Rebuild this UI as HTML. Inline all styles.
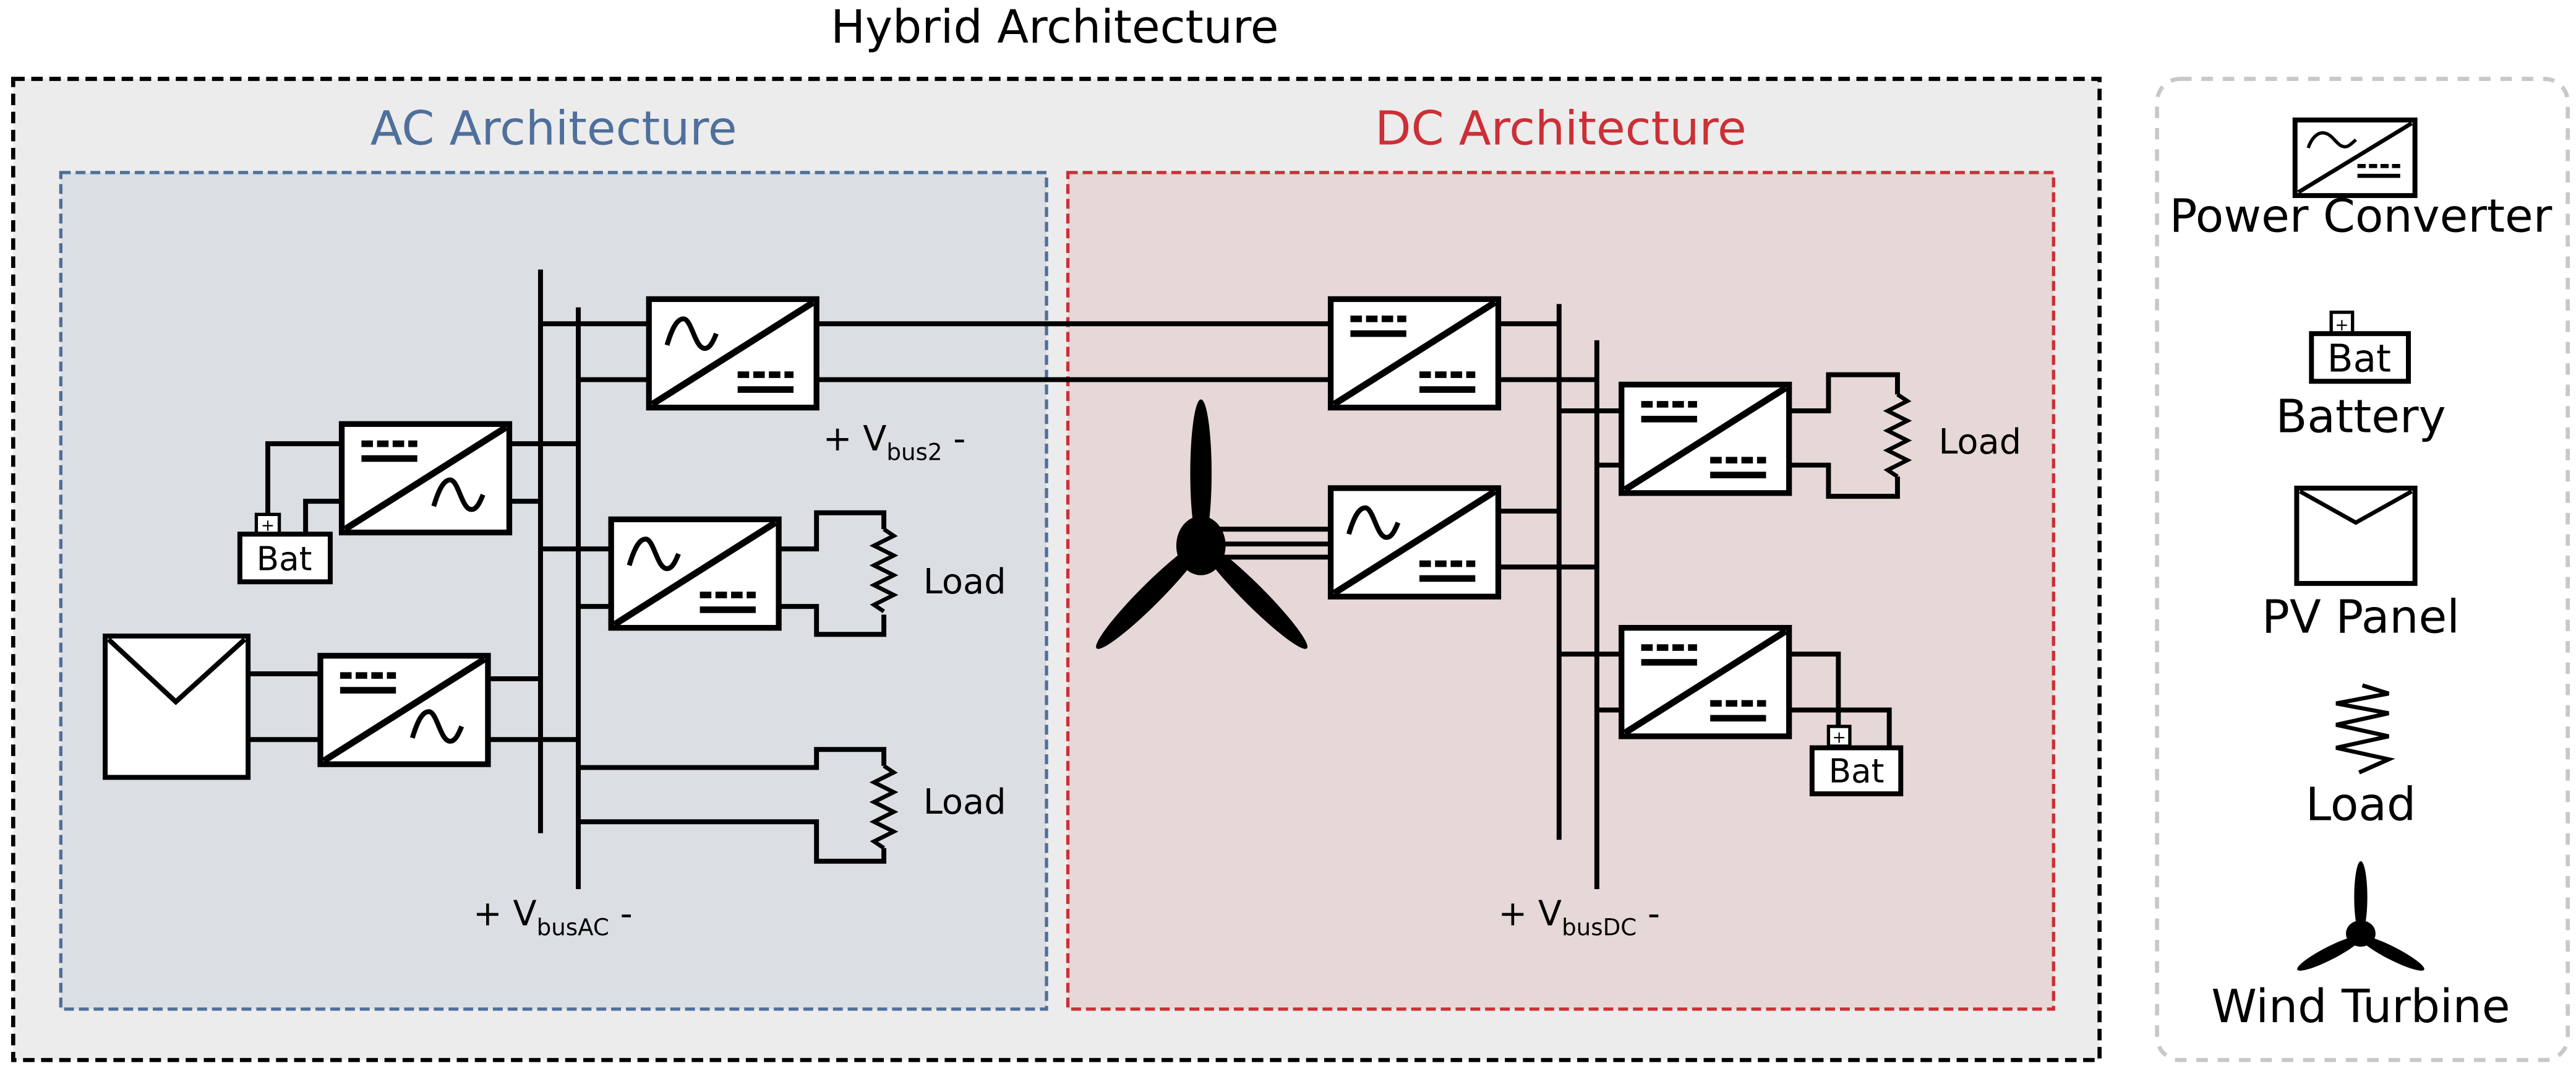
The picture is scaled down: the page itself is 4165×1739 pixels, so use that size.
<!DOCTYPE html>
<html><head><meta charset="utf-8"><style>
html,body{margin:0;padding:0;background:#fff}
svg{display:block}
text{font-family:"DejaVu Sans","Liberation Sans",sans-serif}
</style></head><body>
<svg width="4165" height="1739" viewBox="0 0 1568 654.7" xmlns="http://www.w3.org/2000/svg">
<defs>
<g id="dcA"><line x1="12" y1="12" x2="46" y2="12" stroke="#000" stroke-width="4" stroke-dasharray="7,2.5"/><line x1="12" y1="21" x2="46" y2="21" stroke="#000" stroke-width="4"/></g>
<g id="dcB"><line x1="54" y1="46" x2="88" y2="46" stroke="#000" stroke-width="4" stroke-dasharray="7,2.5"/><line x1="54" y1="55" x2="88" y2="55" stroke="#000" stroke-width="4"/></g>
<path id="sinA" d="M11,28 C14,18 17,12 21,12 C26,12 28,30 34,30 C37,30 39,26 41,21" fill="none" stroke="#000" stroke-width="3"/>
<path id="sinB" d="M56,50 C59,40 62,34 66,34 C71,34 73,52 79,52 C82,52 84,48 86,43" fill="none" stroke="#000" stroke-width="3"/>
<g id="box"><rect x="0" y="0" width="102" height="66" fill="#fff" stroke="#000" stroke-width="3.5"/><line x1="2" y1="64" x2="100" y2="2" stroke="#000" stroke-width="4"/></g>
<g id="acdc"><use href="#box"/><use href="#sinA"/><use href="#dcB"/></g>
<g id="dcac"><use href="#box"/><use href="#dcA"/><use href="#sinB"/></g>
<g id="dcdc"><use href="#box"/><use href="#dcA"/><use href="#dcB"/></g>
<g id="zig"><polyline points="0,0 6,4 -6,10 6,16 -6,22 6,28 -6,34 6,40 -6,46 0,50" fill="none" stroke="#000" stroke-width="2.5"/></g>
</defs>

<text x="642" y="26" font-size="28" text-anchor="middle">Hybrid Architecture</text>
<rect x="8" y="48" width="1270" height="597" fill="#ececec" stroke="#000" stroke-width="2.5" stroke-dasharray="7,4"/>
<rect x="37" y="105" width="600" height="509" fill="#dbdee3" stroke="#4f6f9c" stroke-width="2" stroke-dasharray="6,3"/>
<rect x="650" y="105" width="600" height="509" fill="#e6d8d7" stroke="#cc2f36" stroke-width="2" stroke-dasharray="6,3"/>
<text x="337" y="88" font-size="28.6" fill="#4f6f9c" text-anchor="middle">AC Architecture</text>
<text x="950" y="88" font-size="28.6" fill="#cc2f36" text-anchor="middle">DC Architecture</text>

<g stroke="#000" stroke-width="3" fill="none">
<line x1="329" y1="164" x2="329" y2="507"/>
<line x1="352" y1="187" x2="352" y2="541"/>
<line x1="329" y1="197" x2="395" y2="197"/>
<line x1="352" y1="231" x2="395" y2="231"/>
<line x1="497" y1="197" x2="810" y2="197"/>
<line x1="497" y1="231" x2="810" y2="231"/>
<line x1="310" y1="270" x2="352" y2="270"/>
<line x1="310" y1="305" x2="329" y2="305"/>
<polyline points="208,270 163,270 163,313"/>
<polyline points="208,305 186,305 186,325"/>
<line x1="329" y1="334" x2="372" y2="334"/>
<line x1="352" y1="369" x2="372" y2="369"/>
<polyline points="474,334 497,334 497,312 538,312 538,322"/>
<polyline points="474,369 497,369 497,386 538,386 538,374"/>
<line x1="151" y1="410" x2="195" y2="410"/>
<line x1="151" y1="450" x2="195" y2="450"/>
<line x1="297" y1="413" x2="329" y2="413"/>
<line x1="297" y1="450" x2="352" y2="450"/>
<polyline points="352,467 497,467 497,456 538,456 538,466"/>
<polyline points="352,500 497,500 497,524 538,524 538,516"/>
<line x1="949" y1="185" x2="949" y2="511"/>
<line x1="972" y1="207" x2="972" y2="541"/>
<line x1="912" y1="197" x2="949" y2="197"/>
<line x1="912" y1="231" x2="972" y2="231"/>
<line x1="912" y1="311" x2="949" y2="311"/>
<line x1="912" y1="345" x2="972" y2="345"/>
<line x1="740" y1="322" x2="810" y2="322"/>
<line x1="740" y1="331" x2="810" y2="331"/>
<line x1="740" y1="339" x2="810" y2="339"/>
<line x1="949" y1="250" x2="987" y2="250"/>
<line x1="972" y1="283" x2="987" y2="283"/>
<polyline points="1089,250 1113,250 1113,228 1155,228 1155,240"/>
<polyline points="1089,283 1113,283 1113,302 1155,302 1155,290"/>
<line x1="949" y1="398" x2="987" y2="398"/>
<line x1="972" y1="432" x2="987" y2="432"/>
<polyline points="1089,398 1119,398 1119,442"/>
<polyline points="1089,432 1150,432 1150,455"/>
</g>

<use href="#zig" transform="translate(538,322)"/>
<use href="#zig" transform="translate(538,466)"/>
<use href="#zig" transform="translate(1155,240)"/>
<text x="562" y="361" font-size="21">Load</text>
<text x="562" y="495" font-size="21">Load</text>
<text x="1180" y="276" font-size="21">Load</text>

<use href="#acdc" transform="translate(395,182)"/>
<use href="#dcac" transform="translate(208,258)"/>
<use href="#acdc" transform="translate(372,316)"/>
<use href="#dcac" transform="translate(195,399)"/>
<use href="#dcdc" transform="translate(810,182)"/>
<use href="#acdc" transform="translate(810,297)"/>
<use href="#dcdc" transform="translate(987,234)"/>
<use href="#dcdc" transform="translate(987,382)"/>

<rect x="156" y="313" width="14" height="12" fill="#fff" stroke="#000" stroke-width="2"/>
<text x="163" y="323" font-size="10" text-anchor="middle">+</text>
<rect x="146" y="325" width="55" height="29" fill="#fff" stroke="#000" stroke-width="3"/>
<text x="173" y="347" font-size="20" text-anchor="middle">Bat</text>
<rect x="1113" y="442" width="13" height="12" fill="#fff" stroke="#000" stroke-width="2"/>
<text x="1119.5" y="452" font-size="10" text-anchor="middle">+</text>
<rect x="1103" y="455" width="54" height="28" fill="#fff" stroke="#000" stroke-width="3"/>
<text x="1130" y="476" font-size="20" text-anchor="middle">Bat</text>

<rect x="64" y="387" width="87" height="86" fill="#fff" stroke="#000" stroke-width="3"/>
<polyline points="66,389 107,427 149,389" fill="none" stroke="#000" stroke-width="3"/>

<g fill="#000">
<ellipse cx="731" cy="288" rx="6.5" ry="45"/>
<ellipse cx="700" cy="362" rx="6.5" ry="46" transform="rotate(45 700 362)"/>
<ellipse cx="763" cy="362" rx="6.5" ry="46" transform="rotate(-45 763 362)"/>
<ellipse cx="731" cy="332" rx="15" ry="18"/>
</g>

<text x="288" y="563" font-size="21">+ V<tspan font-size="14" dy="6">busAC</tspan><tspan dy="-6"> -</tspan></text>
<text x="501" y="274" font-size="21">+ V<tspan font-size="14" dy="6">bus2</tspan><tspan dy="-6"> -</tspan></text>
<text x="912" y="563" font-size="21">+ V<tspan font-size="14" dy="6">busDC</tspan><tspan dy="-6"> -</tspan></text>

<rect x="1313" y="48" width="250" height="597" rx="14" fill="#fff" stroke="#c8c8c8" stroke-width="2.5" stroke-dasharray="7,6"/>
<g transform="translate(1397,73)">
<rect x="0" y="0" width="73" height="46" fill="#fff" stroke="#000" stroke-width="3"/>
<line x1="2" y1="44" x2="71" y2="2" stroke="#000" stroke-width="2.5"/>
<path d="M8,17 C10,11 14,7 18,8 C24,9 26,18 32,16 C34,15 36,13 37,12" fill="none" stroke="#000" stroke-width="2"/>
<line x1="38" y1="28" x2="64" y2="28" stroke="#000" stroke-width="2.5" stroke-dasharray="5,2"/>
<line x1="38" y1="34" x2="64" y2="34" stroke="#000" stroke-width="2.5"/>
</g>
<text x="1437" y="141" font-size="28" text-anchor="middle">Power Converter</text>
<rect x="1419" y="190" width="13" height="13" fill="#fff" stroke="#000" stroke-width="2"/>
<text x="1425.5" y="201" font-size="10" text-anchor="middle">+</text>
<rect x="1407" y="203" width="59" height="29" fill="#fff" stroke="#000" stroke-width="3"/>
<text x="1436" y="226" font-size="23" text-anchor="middle">Bat</text>
<text x="1437" y="263" font-size="28" text-anchor="middle">Battery</text>
<rect x="1398" y="297" width="72" height="58" fill="#fff" stroke="#000" stroke-width="3"/>
<polyline points="1400,299 1434,318 1468,299" fill="none" stroke="#000" stroke-width="2.5"/>
<text x="1437" y="385" font-size="28" text-anchor="middle">PV Panel</text>
<polyline points="1438,417 1454,422 1422,428 1454,434 1422,441 1454,448 1422,455 1454,462 1436,470" fill="none" stroke="#000" stroke-width="2.5"/>
<text x="1437" y="499" font-size="28" text-anchor="middle">Load</text>
<g fill="#000">
<ellipse cx="1437" cy="546" rx="4" ry="22"/>
<ellipse cx="1418" cy="580" rx="4" ry="22" transform="rotate(63 1418 580)"/>
<ellipse cx="1456" cy="580" rx="4" ry="22" transform="rotate(-63 1456 580)"/>
<ellipse cx="1437" cy="568" rx="9" ry="8"/>
</g>
<text x="1437" y="622" font-size="28" text-anchor="middle">Wind Turbine</text>
</svg>
</body></html>
